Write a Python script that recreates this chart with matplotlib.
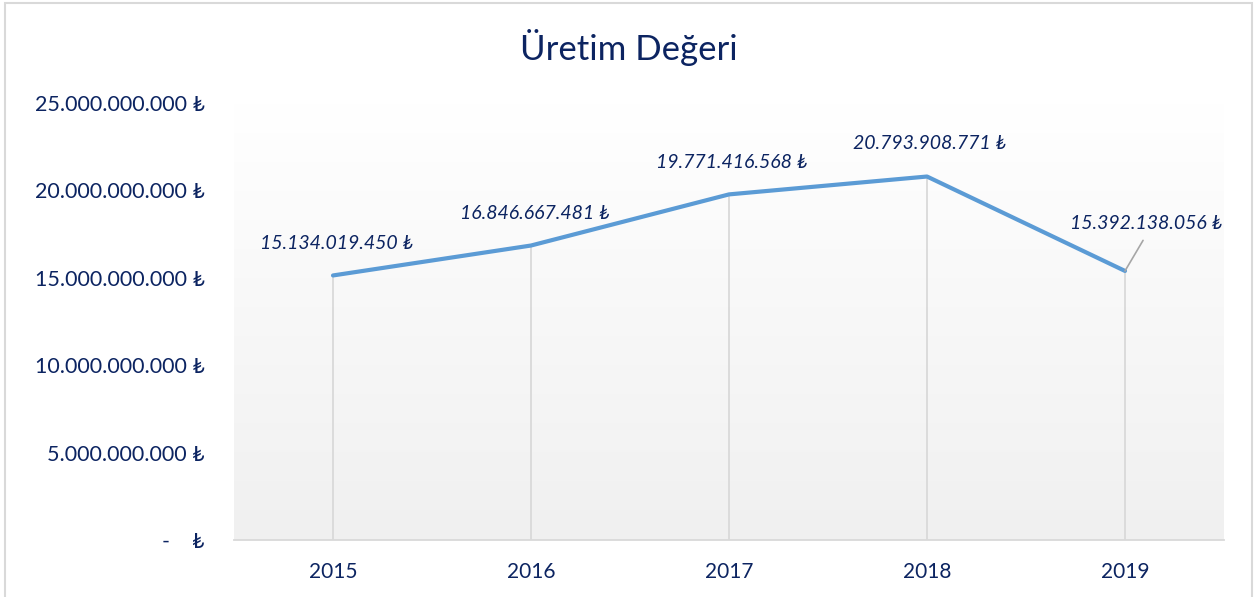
import matplotlib.pyplot as plt
import numpy as np
from matplotlib.patches import Rectangle

#========== DATA ==========#

years = ["2015", "2016", "2017", "2018", "2019"]
uretim_degeri = [15134019450, 16846667481, 19771416568, 20793908771, 15392138056]
y_ticks = [0, 5000000000, 10000000000, 15000000000, 20000000000, 25000000000]

NAVY = "#0c2461"
LINE = "#5b9bd5"
GRID = "#d9d9d9"

plt.rcParams['font.family'] = ['Lato', 'DejaVu Sans']


def tl(value):
    """formate un montant à la turque"""
    if value == 0:
        return "-    ₺"
    return f"{value:,}".replace(",", ".") + " ₺"


fig = plt.figure(figsize=(12.57, 5.97), dpi=100)
ax = fig.add_axes([234 / 1257, 1 - 540 / 597, 990 / 1257, 437 / 597])

x = np.arange(len(years))
ax.set_xlim(-0.5, len(years) - 0.5)
ax.set_ylim(0, 25000000000)

# fond dégradé du plot area
grad = np.linspace(0, 1, 256).reshape(-1, 1)
ax.imshow(grad, extent=(-0.5, len(years) - 0.5, 0, 25000000000), aspect="auto",
          origin="lower", cmap=plt.matplotlib.colors.LinearSegmentedColormap.from_list(
              "bg", ["#f0f0f0", "#ffffff"]), zorder=0)

# lignes de rappel
ax.vlines(x, 0, uretim_degeri, color=GRID, linewidth=1.3, zorder=1)
ax.plot(x, uretim_degeri, color=LINE, linewidth=3, solid_capstyle="round", zorder=3)

offsets = [(3, 23), (3, 23), (2, 23), (2, 24), (15, 34)]
for i, v in enumerate(uretim_degeri):
    dx, dy = offsets[i]
    ax.annotate(tl(v), (x[i], v), xytext=(dx, dy), textcoords="offset points",
                ha="center", va="center", fontsize=14, style="italic", color=NAVY,
                zorder=4)
# leader line 2019
ax.annotate("", (x[4], uretim_degeri[4]), xytext=(13, 22), textcoords="offset points",
            arrowprops=dict(arrowstyle="-", color="#a6a6a6", lw=1.2, shrinkA=0, shrinkB=0))

ax.set_xticks(x)
ax.set_xticklabels(years)
ax.set_yticks(y_ticks)
ax.set_yticklabels([tl(t) for t in y_ticks])
ax.tick_params(axis="both", length=0, labelsize=15.5, colors=NAVY)
ax.tick_params(axis="x", pad=16, labelsize=15)
ax.tick_params(axis="y", pad=21)

for side in ["top", "right", "left"]:
    ax.spines[side].set_visible(False)
ax.spines["bottom"].set_color(GRID)
ax.spines["bottom"].set_linewidth(1.3)

fig.text(0.5, 1 - 48 / 597, "Üretim Değeri", ha="center", va="center",
         fontsize=25, color=NAVY)

fig.patches.append(Rectangle((5 / 1257, -0.02), 1247 / 1257, 1 - 3 / 597 + 0.02,
                             transform=fig.transFigure, fill=False,
                             edgecolor=GRID, linewidth=1.5))

fig.savefig("out.png", dpi=100)
